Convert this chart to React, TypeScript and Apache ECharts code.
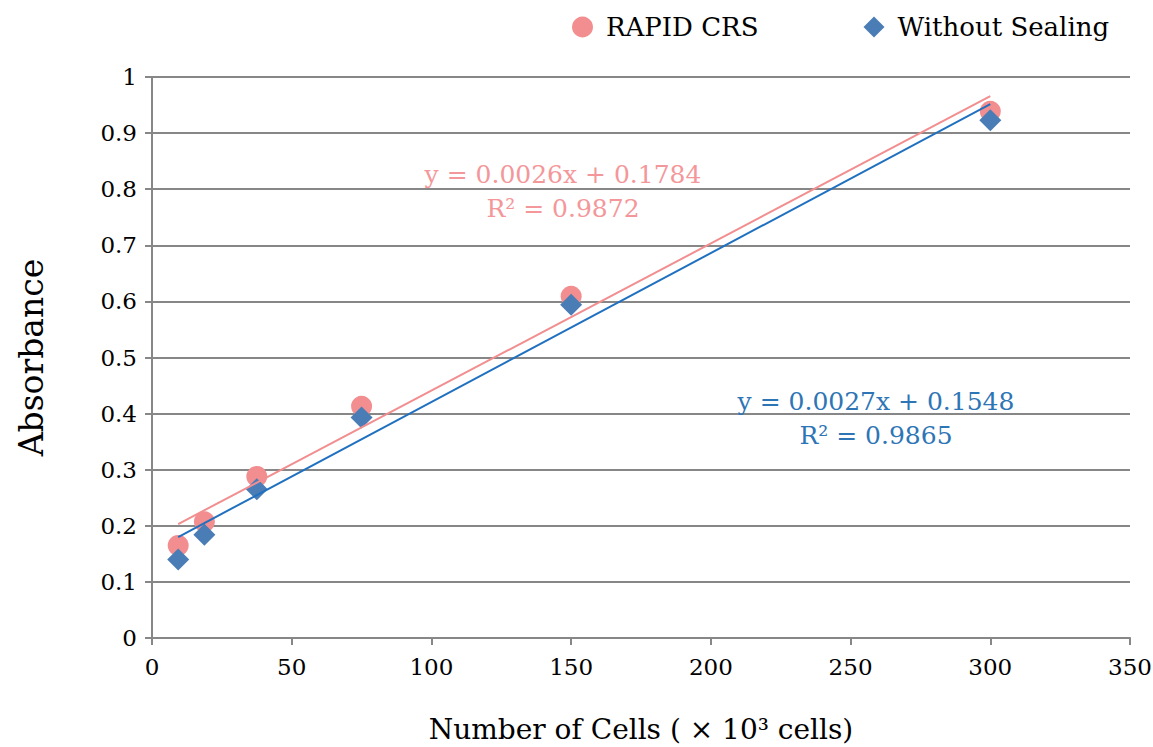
import React, { useEffect, useRef } from "react";
import * as echarts from "echarts";

const cells = [9.375, 18.75, 37.5, 75, 150, 300];
const rapidCRS = [0.165, 0.207, 0.288, 0.413, 0.609, 0.939];
const withoutSealing = [0.140, 0.184, 0.265, 0.393, 0.594, 0.923];
const rapidEquation = ["y = 0.0026x + 0.1784", "R² = 0.9872"];
const withoutEquation = ["y = 0.0027x + 0.1548", "R² = 0.9865"];

function fit(xs: number[], ys: number[]) {
  const n = xs.length;
  const mx = xs.reduce((a, b) => a + b, 0) / n;
  const my = ys.reduce((a, b) => a + b, 0) / n;
  let sxy = 0, sxx = 0;
  for (let i = 0; i < n; i++) {
    sxy += (xs[i] - mx) * (ys[i] - my);
    sxx += (xs[i] - mx) * (xs[i] - mx);
  }
  const m = sxy / sxx;
  const b = my - m * mx;
  const x0 = Math.min(...xs), x1 = Math.max(...xs);
  return [[x0, m * x0 + b], [x1, m * x1 + b]];
}

const FONT = '"DejaVu Serif", "Liberation Serif", serif';
const PINK = "#F28E90";
const BLUE_M = "#4A7DB5";
const BLUE_L = "#2070C0";
const PINK_T = "#F4979A";
const BLUE_T = "#2E75B6";
const AXIS = "#878787";

export default function App() {
  const ref = useRef<HTMLDivElement>(null);
  useEffect(() => {
    const chart = echarts.init(ref.current!, null, { renderer: "svg" });
    chart.setOption({
      animation: false,
      backgroundColor: "#fff",
      textStyle: { fontFamily: FONT },
      legend: {
        data: [
          { name: "RAPID CRS", icon: "circle" },
          { name: "Without Sealing", icon: "diamond" },
        ],
        left: 567,
        top: 9,
        itemWidth: 21,
        itemHeight: 21,
        itemGap: 105,
        textStyle: {
          fontFamily: FONT,
          fontSize: 26,
          color: "#000",
          padding: [0, 0, 0, 8],
        },
      },
      grid: { left: 152, right: 23, top: 77, bottom: 109, outerBoundsMode: "none", containLabel: false },
      xAxis: {
        type: "value",
        min: 0,
        max: 350,
        interval: 50,
        name: "Number of Cells ( × 10³ cells)",
        nameLocation: "middle",
        nameGap: 77,
        nameTextStyle: { fontFamily: FONT, fontSize: 28, color: "#000" },
        axisLine: { show: true, onZero: false, lineStyle: { color: AXIS, width: 2 } },
        axisTick: { show: true, length: 7, lineStyle: { color: AXIS, width: 2 } },
        axisLabel: { fontFamily: FONT, fontSize: 23, color: "#000", margin: 17 },
        splitLine: { show: false },
      },
      yAxis: {
        type: "value",
        min: 0,
        max: 1,
        interval: 0.1,
        name: "Absorbance",
        nameLocation: "middle",
        nameGap: 104,
        nameTextStyle: { fontFamily: FONT, fontSize: 33, color: "#000" },
        axisLine: { show: true, lineStyle: { color: AXIS, width: 2 } },
        axisTick: { show: true, length: 7, lineStyle: { color: AXIS, width: 2 } },
        axisLabel: { fontFamily: FONT, fontSize: 23, color: "#000", margin: 15 },
        splitLine: { show: true, lineStyle: { color: AXIS, width: 2 } },
      },
      series: [
        {
          name: "RAPID CRS",
          type: "scatter",
          symbol: "circle",
          symbolSize: 21,
          itemStyle: { color: PINK, opacity: 1 },
          data: cells.map((x, i) => [x, rapidCRS[i]]),
          z: 3,
        },
        {
          name: "Without Sealing",
          type: "scatter",
          symbol: "diamond",
          symbolSize: 22,
          itemStyle: { color: BLUE_M, opacity: 1 },
          data: cells.map((x, i) => [x, withoutSealing[i]]),
          z: 4,
        },
        {
          name: "RAPID CRS trend",
          type: "line",
          showSymbol: false,
          symbol: "none",
          lineStyle: { color: PINK, width: 2 },
          data: fit(cells, rapidCRS),
          z: 5,
        },
        {
          name: "Without Sealing trend",
          type: "line",
          showSymbol: false,
          symbol: "none",
          lineStyle: { color: BLUE_L, width: 2 },
          data: fit(cells, withoutSealing),
          z: 5,
        },
      ],
      graphic: [
        {
          type: "text",
          x: 563,
          y: 191,
          style: {
            text: rapidEquation.join("\n"),
            fill: PINK_T,
            font: `25px ${FONT}`,
            align: "center",
            verticalAlign: "middle",
            lineHeight: 34,
          },
          z: 10,
        },
        {
          type: "text",
          x: 876,
          y: 418,
          style: {
            text: withoutEquation.join("\n"),
            fill: BLUE_T,
            font: `25px ${FONT}`,
            align: "center",
            verticalAlign: "middle",
            lineHeight: 34,
          },
          z: 10,
        },
      ],
    });
    return () => chart.dispose();
  }, []);
  return (
    <div
      ref={ref}
      style={{ position: "fixed", left: 0, top: 0, width: 1153, height: 747 }}
    />
  );
}
